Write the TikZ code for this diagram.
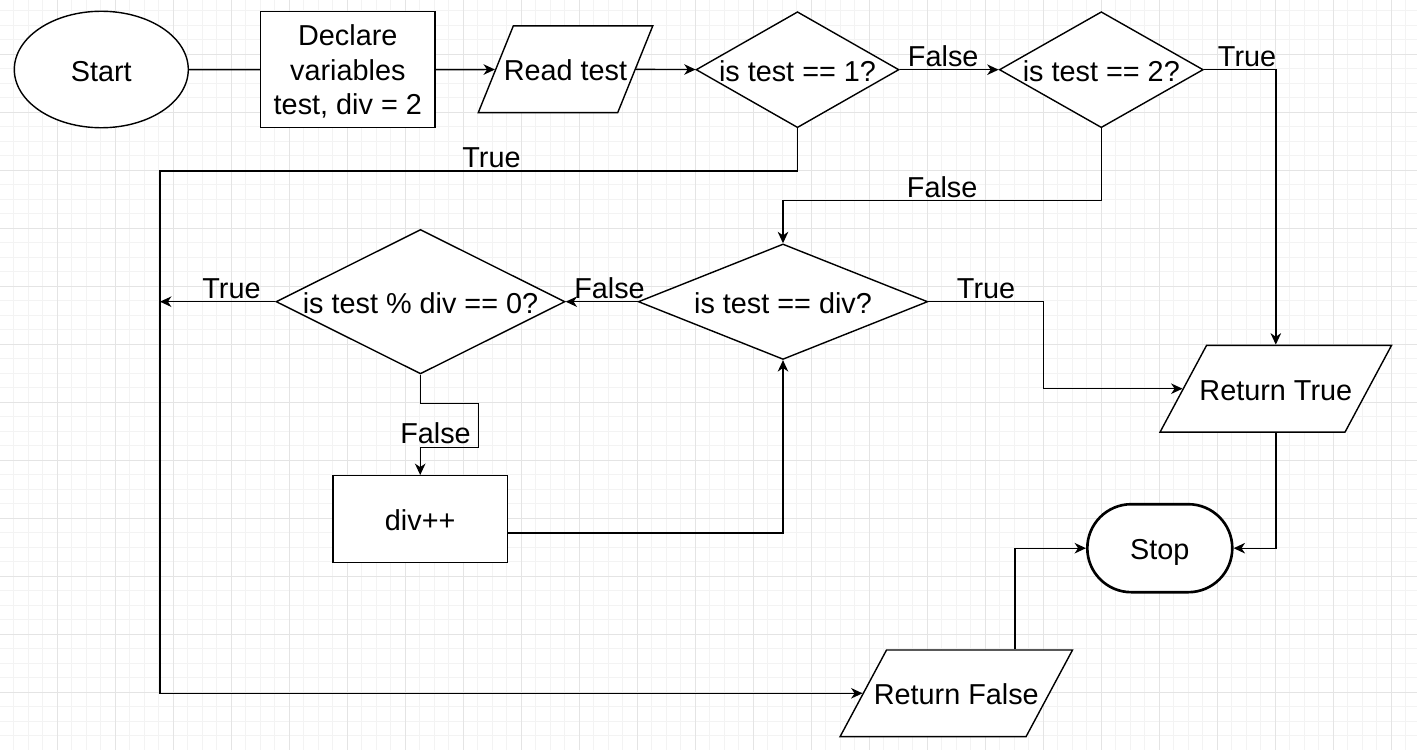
\documentclass[tikz,border=0pt]{standalone}
\usepackage{fontspec}
\setmainfont{Liberation Sans}
\usetikzlibrary{arrows.meta}
\usetikzlibrary{shapes.geometric}
\usetikzlibrary{shapes.misc}

\definecolor{gridminor}{HTML}{F3F3F3}
\definecolor{gridmajor}{HTML}{E4E4E4}

\begin{document}
\begin{tikzpicture}[x=0.02cm,y=-0.02cm,->,>={Stealth[length=6.5pt,width=6pt,inset=2pt]},line width=0.8pt,
  every node/.style={font=\fontsize{16.4}{19.7}\selectfont},
  shape node/.style={draw,fill=white,inner sep=0pt},
  one line/.style={text height=13.1pt,text depth=0pt},
  flat text/.style={execute at begin node={\hbox to 0pt\bgroup\hss},execute at end node={\hss\egroup}},
  start node/.style={shape node,one line,ellipse,minimum width=3.48cm,minimum height=2.33cm},
  box node/.style={shape node,rectangle,minimum width=3.49cm},
  io node/.style={shape node,one line,flat text,trapezium,trapezium stretches body,inner ysep=0.637cm},
  test node/.style={shape node,one line,flat text,diamond},
  stop node/.style={shape node,one line,rounded rectangle,line width=1.5pt,minimum width=2.9cm,minimum height=1.76cm},
  label node/.style={above,inner sep=1.5pt}]

  \useasboundingbox (0,0) rectangle (1417,750);

  % background grid
  \begin{scope}[-,x=1cm,y=1cm,shift={(-0.014,-1.086)},line width=0.5pt]
    \draw[gridminor,step=0.29] (0.014,-13.914) grid (28.354,1.086);
    \draw[gridmajor,step=1.16] (0.014,-13.914) grid (28.354,1.086);
  \end{scope}

  \node[start node] (start) at (101.3,69.5) {Start};
  \node[box node,minimum height=2.32cm,align=center,text depth=0pt] (declare) at (347.8,69.7) {Declare\\variables\\test, div = 2};
  \node[io node,trapezium left angle=68,trapezium right angle=112,minimum width=3.49cm] (read) at (565.5,69.3) {Read test};
  \node[test node,minimum width=4.06cm,minimum height=2.32cm] (one) at (797.5,69.7) {is test == 1?};
  \node[test node,minimum width=4.08cm,minimum height=2.32cm] (two) at (1101.3,69.7) {is test == 2?};
  \node[test node,minimum width=5.79cm,minimum height=2.31cm] (same) at (783,301.7) {is test == div?};
  \node[test node,minimum width=5.78cm,minimum height=2.89cm] (mod) at (420.5,301.7) {is test \% div == 0?};
  \node[box node,one line,minimum height=1.74cm] (inc) at (420.2,519.2) {div++};
  \node[io node,trapezium left angle=61.8,trapezium right angle=118.2,minimum width=4.63cm] (rtrue) at (1275.8,388.7) {Return True};
  \node[stop node] (stop) at (1159.8,548.2) {Stop};
  \node[io node,trapezium left angle=61.8,trapezium right angle=118.2,minimum width=4.65cm] (rfalse) at (956.3,693.3) {Return False};

  \coordinate (back) at (160,171);
  \coordinate (rise) at (1015,0);

  \draw[-] (start) -- (declare);
  \draw (declare.east) -- (read);
  \draw (read) -- (one);
  \draw (one) -- node[label node,pos=0.44] {False} (two);
  \draw (one.south) |- node[label node,pos=0.74] {True} (back) |- (rfalse);
  \draw (two.east) -| node[label node,pos=0.3] {True} (rtrue);
  \draw (two.south) -- ++(0,72.3) -| node[label node,pos=0.25] {False} (same.north);
  \draw (same.west) -- node[label node,pos=0.39] {False} (mod.east);
  \draw (same.east) -- node[label node] {True} ++(115.3,0) |- (rtrue);
  \draw (mod.west) -- node[label node,pos=0.38] {True} (mod.west -| back);
  \draw (mod.south) -- ++(0,29) -- ++(58,0) -- node[label node,left,inner sep=4pt,pos=0.68] {False} ++(0,44) -| (inc.north);
  \draw ([yshift=-0.28cm]inc.east) -| (same.south);
  \draw (rtrue) |- (stop);
  \draw (rise |- rfalse.north) |- (stop.west);

\end{tikzpicture}
\end{document}
